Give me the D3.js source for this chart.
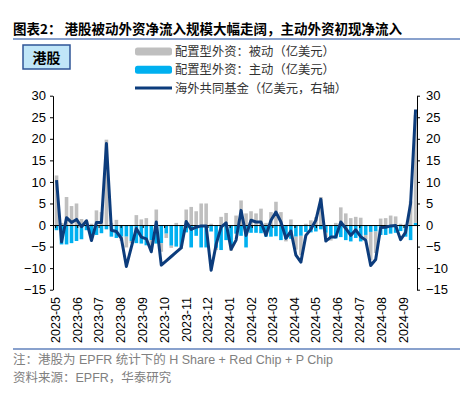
<!DOCTYPE html>
<html>
<head>
<meta charset="utf-8">
<script src="https://cdn.jsdelivr.net/npm/d3@7/dist/d3.min.js"></script>
<style>
  body { margin: 0; background: #fff; }
  text { font-family: "Liberation Sans", Arial, "Noto Sans CJK SC", sans-serif; }
</style>
</head>
<body>
<div id="chart"></div>
<script>
// weekly observation dates
var dates = [
  '2023-05-03','2023-05-10','2023-05-17','2023-05-24','2023-05-31','2023-06-07','2023-06-14','2023-06-21','2023-06-28',
  '2023-07-05','2023-07-12','2023-07-19','2023-07-26','2023-08-02','2023-08-09','2023-08-16','2023-08-23','2023-08-30',
  '2023-09-06','2023-09-13','2023-09-20','2023-09-27','2023-10-04','2023-10-11','2023-10-18','2023-10-25','2023-11-01',
  '2023-11-08','2023-11-15','2023-11-22','2023-11-29','2023-12-06','2023-12-13','2023-12-20','2023-12-27',
  '2024-01-03','2024-01-10','2024-01-17','2024-01-24','2024-01-31','2024-02-07','2024-02-14','2024-02-21','2024-02-28',
  '2024-03-06','2024-03-13','2024-03-20','2024-03-27','2024-04-03','2024-04-10','2024-04-17','2024-04-24','2024-05-01',
  '2024-05-08','2024-05-15','2024-05-22','2024-05-29','2024-06-05','2024-06-12','2024-06-19','2024-06-26','2024-07-03',
  '2024-07-10','2024-07-17','2024-07-24','2024-07-31','2024-08-07','2024-08-14','2024-08-21','2024-08-28','2024-09-04',
  '2024-09-11','2024-09-18'
];

// 配置型外资：被动（亿美元）
var passive = [
  11.5, 0.5, 6.5, 4.4, 5.0, 1.4, 1.0, 0.3, 3.4, 3.0, 19.8, 0.5, 1.2, -1.0, -2.5, -0.5, 2.3, 1.3,
  1.6, -1.5, 3.6, -2.0, -1.0, -0.5, 0.5, -0.3, 3.6, 4.2, 3.2, 5.0, 5.0, 0.3, -0.5, 1.9, 2.8,
  -1.0, 2.2, 5.7, 2.7, 3.2, 2.7, 3.8, 0.5, 3.0, 5.4, 3.0, -0.5, 1.3, -3.0, -4.5, 0.3, 1.1,
  1.8, 6.5, -1.0, -0.5, 0.5, 4.1, 2.7, 1.6, 1.9, 1.7, -1.0, -6.5, -5.0, 1.5, 1.6, 2.2, 2.0,
  0.3, 0.2, 5.5, 25.0
];

// 配置型外资：主动（亿美元）
var active = [
  -1.2, -4.5, -4.5, -4.2, -3.7, -3.3, -1.2, -2.7, -2.3, -1.9, -1.0, -2.7, -3.0, -2.7, -2.7, -3.7, -4.2, -4.3,
  -4.7, -3.5, -4.3, -4.2, -2.0, -4.8, -5.0, -5.2, -1.7, -5.2, -2.5, -5.2, -5.2, -1.5, -5.3, -5.8, -3.5,
  -5.0, -2.0, -2.5, -5.2, -1.8, -1.8, -1.9, -2.7, -2.7, -2.6, -3.5, -3.3, -3.2, -2.7, -2.5, -1.6, -1.7,
  -1.5, -1.0, -1.8, -3.1, -3.1, -2.8, -3.5, -3.8, -3.0, -3.8, -2.3, -1.6, -1.5, -2.3, -2.3, -2.0, -1.8,
  -1.4, -2.7, -3.5, 0.5
];

// 海外共同基金（亿美元，右轴）
var fund = [
  10.4, -3.9, 1.7, 0.6, 1.3, -0.4, 1.0, -3.6, 0.6, 0.6, 18.9, -1.2, -1.5, -3.1, -9.6, -5.1, -0.8, -2.8,
  -3.2, -6.2, 0.7, -9.3, -8.3, -7.3, -6.3, -5.3, 0.8, -1.0, -0.5, -0.2, -0.2, -10.5, -4.5, -0.5, 0.5,
  -5.6, -3.5, 3.4, -2.4, 1.1, 0.7, 0.7, -2.4, 1.1, 3.0, 0.7, -3.1, -1.4, -7.0, -8.6, -2.4, -1.0,
  1.1, 6.0, -3.7, -2.8, -2.8, 0.7, -0.8, -2.4, -1.1, -2.7, -3.5, -9.4, -8.0, -0.6, -0.5, -0.2, -0.1,
  -3.4, -1.7, 5.0, 26.8
];

var yTicks = [-15, -10, -5, 0, 5, 10, 15, 20, 25, 30];

var width = 462, height = 395;
var parse = d3.timeParse('%Y-%m-%d');

var rows = dates.map(function (d, i) {
  return { date: parse(d), active: active[i], passive: passive[i], fund: fund[i] };
});

var svg = d3.select('#chart').append('svg')
  .attr('width', width)
  .attr('height', height);

var x = d3.scaleTime()
  .domain([parse('2023-04-28'), parse('2024-09-20')])
  .range([53, 417]);
var y = d3.scaleLinear().domain([-15, 30]).range([289.7, 95.7]);
var y2 = d3.scaleLinear().domain([-15, 30]).range([289.7, 95.7]);

// title
svg.append('text')
  .attr('x', 13).attr('y', 34)
  .attr('font-size', 13.5).attr('font-weight', 'bold')
  .style('font-family', '"Noto Sans CJK SC", sans-serif')
  .attr('fill', '#000')
  .attr('xml:space', 'preserve')
  .text('图表2： 港股被动外资净流入规模大幅走阔，主动外资初现净流入');

svg.append('line')
  .attr('x1', 13).attr('x2', 460).attr('y1', 39).attr('y2', 39)
  .attr('stroke', '#6282bd').attr('stroke-width', 1.3);

// tag box
svg.append('rect')
  .attr('x', 23).attr('y', 45).attr('width', 47).attr('height', 24)
  .attr('fill', '#c0e6f8').attr('stroke', '#2f5597').attr('stroke-width', 1.5);
svg.append('text')
  .attr('x', 46.5).attr('y', 62.5)
  .attr('text-anchor', 'middle')
  .attr('font-size', 14).attr('font-weight', 'bold')
  .style('font-family', '"Noto Sans CJK SC", sans-serif')
  .text('港股');

// legend
var legend = [
  { name: '配置型外资：被动（亿美元）', type: 'bar', color: '#bfbfbf' },
  { name: '配置型外资：主动（亿美元）', type: 'bar', color: '#00b0f0' },
  { name: '海外共同基金（亿美元，右轴）', type: 'line', color: '#0c3c7c' }
];
var lg = svg.append('g').selectAll('g').data(legend).enter().append('g')
  .attr('transform', function (d, i) { return 'translate(135,' + (51.5 + i * 18.3) + ')'; });
lg.filter(function (d) { return d.type === 'bar'; }).append('rect')
  .attr('x', 0).attr('y', -4).attr('width', 37).attr('height', 8).attr('rx', 2.5)
  .attr('fill', function (d) { return d.color; });
lg.filter(function (d) { return d.type === 'line'; }).append('line')
  .attr('x1', 0).attr('x2', 37).attr('y1', 0).attr('y2', 0)
  .attr('stroke', function (d) { return d.color; }).attr('stroke-width', 3);
lg.append('text')
  .attr('x', 40).attr('y', 4.5)
  .attr('font-size', 12.3)
  .style('font-family', '"Noto Sans CJK SC", sans-serif')
  .attr('fill', '#333')
  .text(function (d) { return d.name; });

// stacked bars
var stack = d3.stack().keys(['active', 'passive']).offset(d3.stackOffsetDiverging);
var series = stack(rows);
var colors = { active: '#00b0f0', passive: '#bfbfbf' };
var barW = 3.6;

svg.append('g').selectAll('g').data(series).enter().append('g')
  .attr('fill', function (s) { return colors[s.key]; })
  .selectAll('rect').data(function (s) { return s; }).enter().append('rect')
  .attr('x', function (d) { return x(d.data.date) - barW / 2; })
  .attr('width', barW)
  .attr('y', function (d) { return y(Math.max(d[0], d[1])); })
  .attr('height', function (d) { return Math.abs(y(d[0]) - y(d[1])); });

// zero axis with month ticks
var xAxis = svg.append('g')
  .attr('transform', 'translate(0,' + y(0) + ')')
  .call(d3.axisBottom(x).ticks(d3.timeMonth.every(1)).tickSize(3).tickSizeOuter(0).tickFormat(''));
xAxis.select('.domain').attr('stroke', '#000').attr('stroke-width', 1);
xAxis.selectAll('.tick line').attr('stroke', '#000');

// month labels
var months = x.ticks(d3.timeMonth.every(1));
svg.append('g').selectAll('text').data(months).enter().append('text')
  .attr('transform', function (d) { return 'translate(' + (x(d) + 4.5) + ',297) rotate(-90)'; })
  .attr('text-anchor', 'end')
  .attr('font-size', 12.5)
  .attr('fill', '#000')
  .text(d3.timeFormat('%Y-%m'));

// line
var line = d3.line()
  .x(function (d) { return x(d.date); })
  .y(function (d) { return y2(d.fund); });
svg.append('path')
  .datum(rows)
  .attr('d', line)
  .attr('fill', 'none')
  .attr('stroke', '#0c3c7c')
  .attr('stroke-width', 3)
  .attr('stroke-linejoin', 'round');

// y axes
var leftAxis = svg.append('g')
  .attr('transform', 'translate(53,0)')
  .call(d3.axisLeft(y).tickValues(yTicks).tickSize(3).tickSizeOuter(0).tickPadding(4));
var rightAxis = svg.append('g')
  .attr('transform', 'translate(417,0)')
  .call(d3.axisRight(y2).tickValues(yTicks).tickSize(3).tickSizeOuter(0).tickPadding(6));
[leftAxis, rightAxis].forEach(function (a) {
  a.select('.domain').attr('stroke', '#000');
  a.selectAll('.tick line').attr('stroke', '#000');
  a.selectAll('text').attr('font-size', 13).attr('fill', '#000')
    .style('font-family', '"Liberation Sans", Arial, sans-serif');
});

// footer
svg.append('line')
  .attr('x1', 13).attr('x2', 460).attr('y1', 349).attr('y2', 349)
  .attr('stroke', '#6282bd').attr('stroke-width', 1.3);
svg.append('text')
  .attr('x', 13).attr('y', 364)
  .attr('font-size', 12.5).attr('fill', '#808080')
  .text('注：港股为 EPFR 统计下的 H Share + Red Chip + P Chip');
svg.append('text')
  .attr('x', 13).attr('y', 382)
  .attr('font-size', 12.5).attr('fill', '#808080')
  .text('资料来源：EPFR，华泰研究');
</script>
</body>
</html>
